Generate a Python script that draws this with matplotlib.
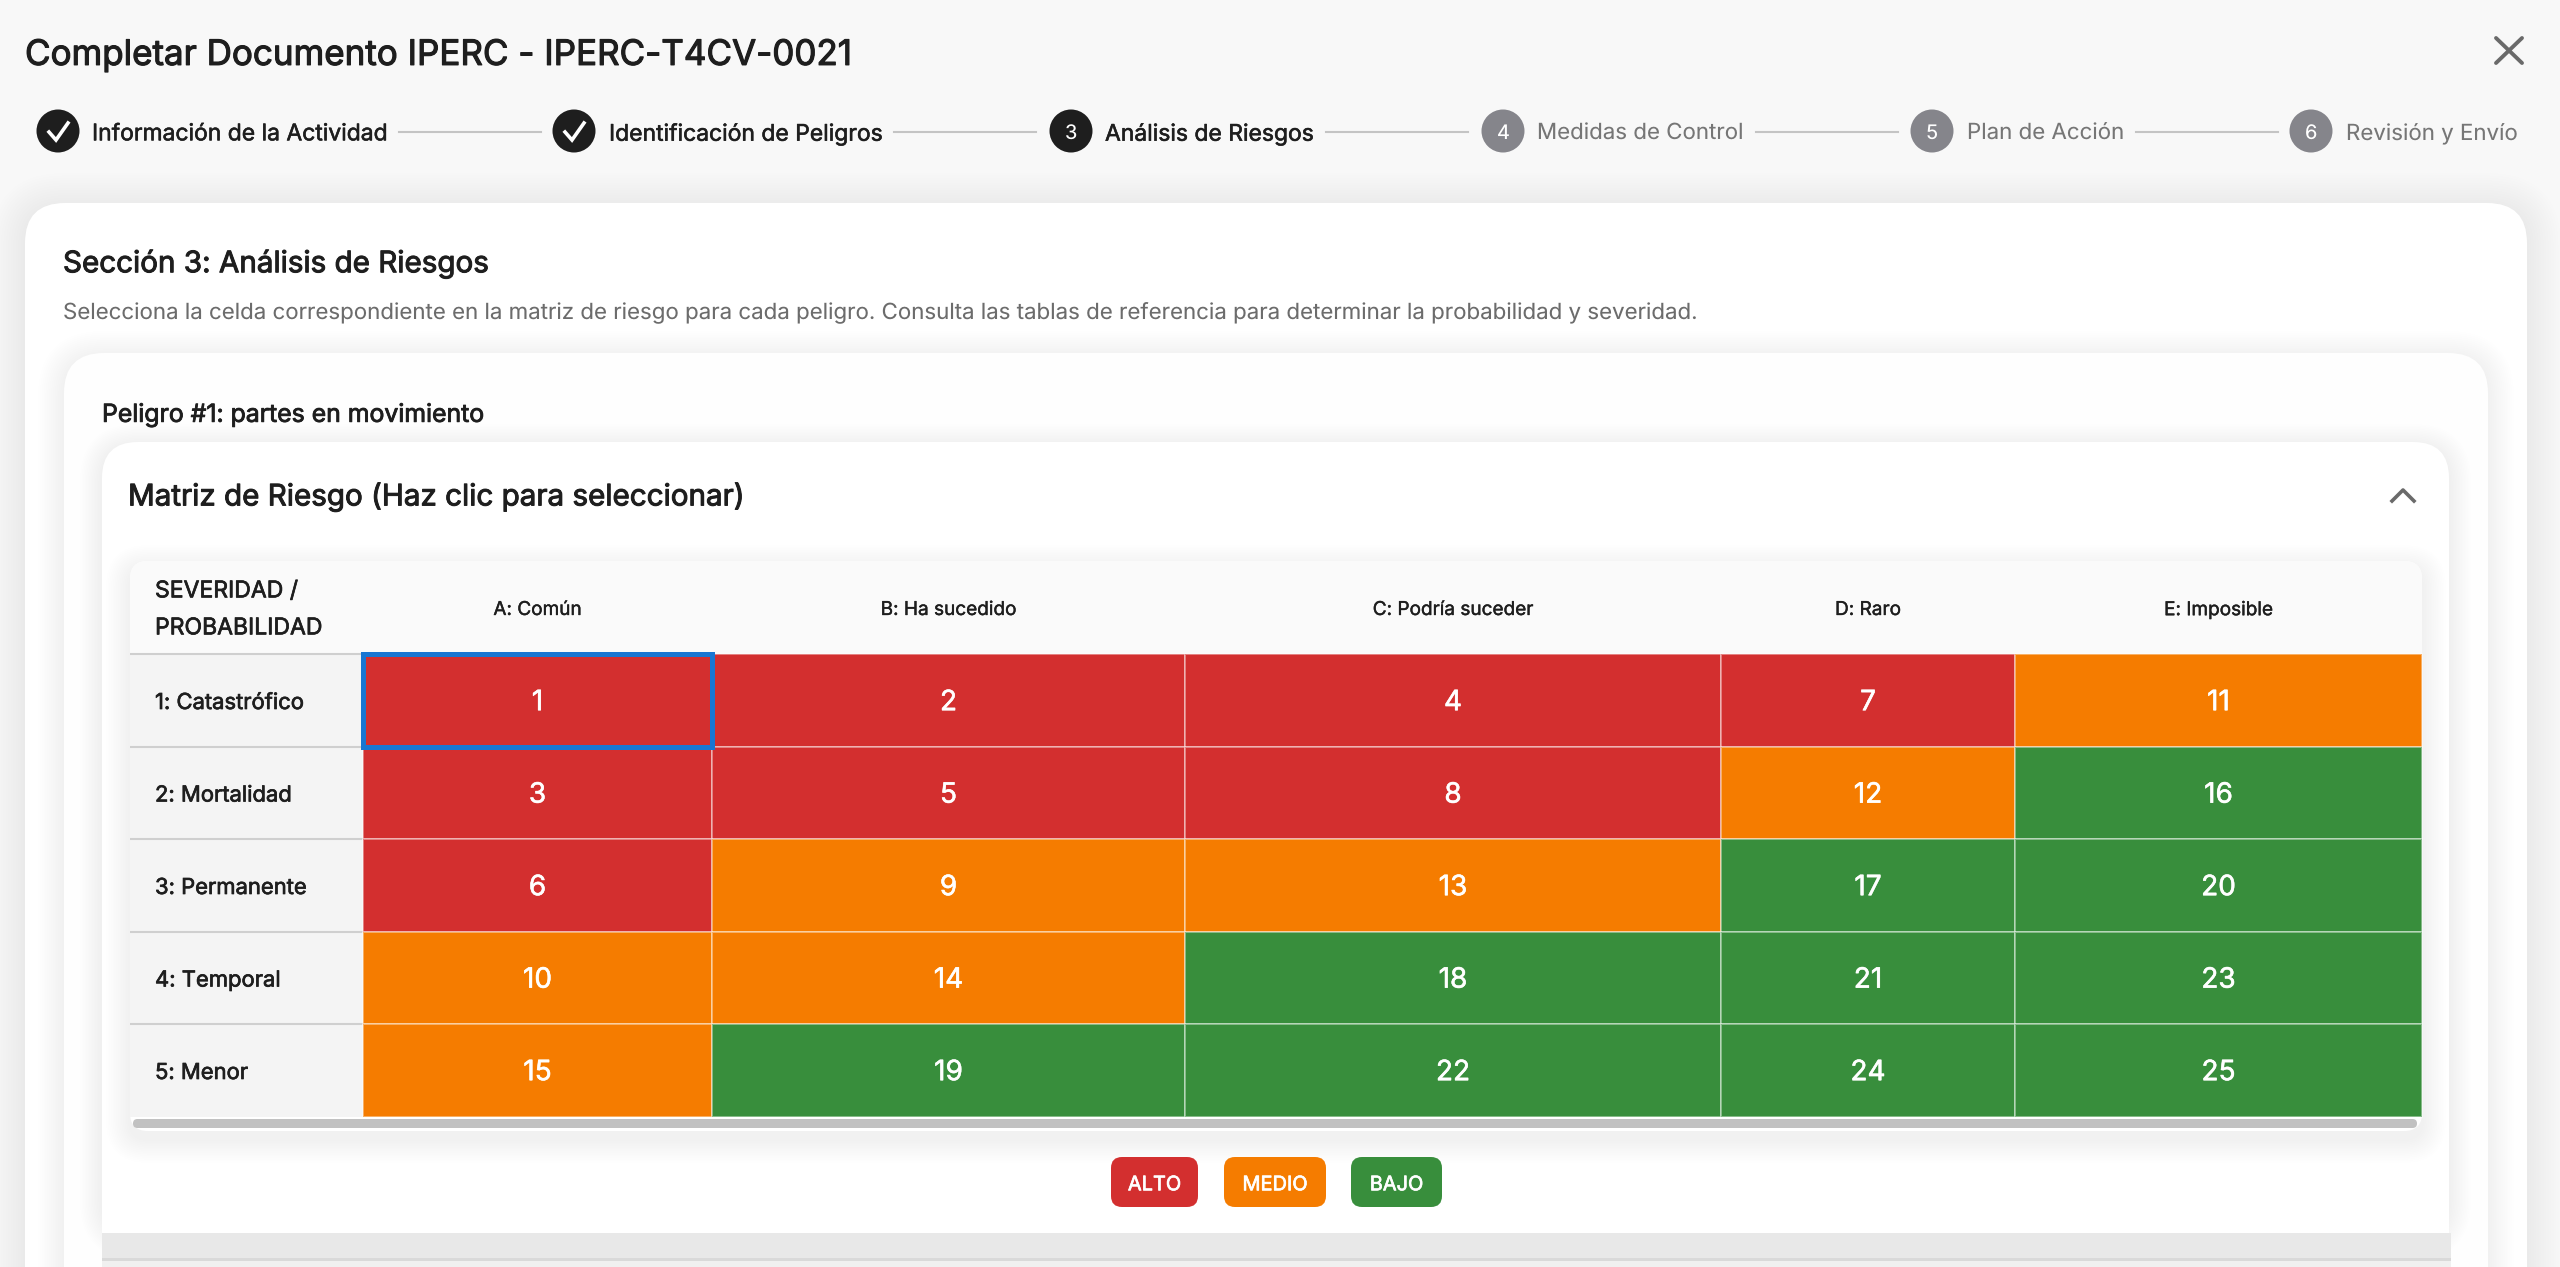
import matplotlib
matplotlib.use('Agg')
import matplotlib.pyplot as plt
import matplotlib.patheffects as pe
from matplotlib.colors import ListedColormap
from matplotlib.patches import FancyBboxPatch, Circle, Rectangle
import numpy as np

plt.rcParams['font.family'] = ['Inter', 'DejaVu Sans']
plt.rcParams['text.hinting'] = 'none'
plt.rcParams['text.hinting_factor'] = 1

# data
col_labels = ['A: Común', 'B: Ha sucedido', 'C: Podría suceder', 'D: Raro', 'E: Imposible']
row_labels = ['1: Catastrófico', '2: Mortalidad', '3: Permanente', '4: Temporal', '5: Menor']
risk_values = [[1, 2, 4, 7, 11],
               [3, 5, 8, 12, 16],
               [6, 9, 13, 17, 20],
               [10, 14, 18, 21, 23],
               [15, 19, 22, 24, 25]]
# 0 alto, 1 medio, 2 bajo
risk_levels = [[0, 0, 0, 0, 1],
               [0, 0, 0, 1, 2],
               [0, 1, 1, 2, 2],
               [1, 1, 2, 2, 2],
               [1, 2, 2, 2, 2]]
level_names = ['ALTO', 'MEDIO', 'BAJO']
level_colors = ['#D32F2F', '#F57C00', '#388E3C']
step_labels = ['Información de la Actividad', 'Identificación de Peligros', 'Análisis de Riesgos',
               'Medidas de Control', 'Plan de Acción', 'Revisión y Envío']
steps_done = 2
current_step = 3

# layout in image pixels
col_edges = [363, 712, 1185, 1721, 2015, 2422]
row_edges = [654, 747, 839, 932, 1024, 1117]
step_x = [58, 574, 1071, 1503, 1932, 2311]
label_x = [92, 609, 1105, 1537, 1967, 2346]
line_spans = [(399, 541), (894, 1036), (1326, 1468), (1756, 1898), (2136, 2278)]
chip_spans = [(1111, 1198), (1224, 1326), (1351, 1442)]


def px(size):
    return size * 72 / 100


def label(ax, x, y, s, size, color='#1e1e1e', ha='left', bold=0.0, **kw):
    t = ax.text(x, y, s, fontsize=px(size), color=color, ha=ha, va='center_baseline', **kw)
    if bold:
        t.set_path_effects([pe.withStroke(linewidth=bold, foreground=color)])
    return t


def rounded(ax, x0, y0, x1, y1, r, color, zorder=1, alpha=1.0):
    p = FancyBboxPatch((x0, y0), x1 - x0, y1 - y0, boxstyle=f'round,pad=0,rounding_size={r}',
                       fc=color, ec='none', alpha=alpha, zorder=zorder)
    ax.add_patch(p)


def shadow(ax, x0, y0, x1, y1, r, blur, strength, zorder=1, dy=4):
    for s in np.linspace(blur, 2, 14):
        rounded(ax, x0 - s, y0 - s + dy, x1 + s, y1 + s + dy, r + s, 'black', zorder, strength)


fig = plt.figure(figsize=(25.6, 12.67), dpi=100, facecolor='#f8f8f8')
ax = fig.add_axes([0, 0, 1, 1])
ax.set_xlim(0, 2560)
ax.set_ylim(1267, 0)
ax.axis('off')

# header
label(ax, 25, 52, 'Completar Documento IPERC - IPERC-T4CV-0021', 35, '#1e1e1e', bold=0.8)
ax.plot([2496, 2522], [38, 63], color='#6a6a6a', lw=2.8, solid_capstyle='round', zorder=3)
ax.plot([2496, 2522], [63, 38], color='#6a6a6a', lw=2.8, solid_capstyle='round', zorder=3)

# stepper
for i, name in enumerate(step_labels):
    active = i < current_step
    col = '#1e1e1e' if active else '#85858b'
    ax.add_patch(Circle((step_x[i], 131), 21.5, fc=col, ec='none', zorder=3))
    if i < steps_done:
        ax.plot([step_x[i] - 9, step_x[i] - 2, step_x[i] + 10], [132, 140, 123], color='white',
                lw=2.6, solid_joinstyle='miter', zorder=4)
    else:
        label(ax, step_x[i], 132, str(i + 1), 20, 'white', ha='center', zorder=4)
    label(ax, label_x[i], 132, name, 22.9 if active else 22.3, '#1e1e1e' if active else '#767676',
          bold=0.4 if active else 0, zorder=4)
for a, b in line_spans:
    ax.plot([a, b], [132, 132], color='#c4c4c4', lw=1.5, zorder=3)

# nested cards
shadow(ax, 25, 203, 2527, 1400, 40, 34, 0.003, zorder=1)
rounded(ax, 25, 203, 2527, 1400, 40, 'white', zorder=2)
label(ax, 63, 261, 'Sección 3: Análisis de Riesgos', 29.6, '#1e1e1e', bold=0.7, zorder=6)
label(ax, 63, 311, 'Selecciona la celda correspondiente en la matriz de riesgo para cada peligro. '
      'Consulta las tablas de referencia para determinar la probabilidad y severidad.', 22.3, '#6c6c6c', zorder=6)

shadow(ax, 64, 353, 2488, 1400, 40, 26, 0.0022, zorder=3)
rounded(ax, 64, 353, 2488, 1400, 40, '#fefefe', zorder=4)
label(ax, 102, 412.5, 'Peligro #1: partes en movimiento', 24.8, '#1e1e1e', bold=0.6, zorder=6)

shadow(ax, 102, 442, 2449, 1233, 36, 22, 0.0022, zorder=5)
rounded(ax, 102, 442, 2449, 1233, 36, 'white', zorder=5)
ax.add_patch(Rectangle((102, 1180), 2347, 53, fc='white', ec='none', zorder=5))
ax.add_patch(Rectangle((102, 1233), 2349, 34, fc='#e8e8e8', ec='none', zorder=5))
ax.add_patch(Rectangle((102, 1258), 2349, 3, fc='#d9d9d9', ec='none', zorder=5))
ax.add_patch(Rectangle((102, 1261), 2349, 6, fc='#f0f0f0', ec='none', zorder=5))
label(ax, 128, 494, 'Matriz de Riesgo (Haz clic para seleccionar)', 29.6, '#1e1e1e', bold=0.7, zorder=6)
ax.plot([2392, 2403, 2414], [501, 490, 501], color='#6a6a6a', lw=2.6, zorder=6)

# table
shadow(ax, 130, 561, 2422, 1131, 18, 24, 0.003, zorder=5, dy=8)
rounded(ax, 130, 561, 2422, 1131, 18, 'white', zorder=6)
rounded(ax, 130, 561, 2422, 654, 18, '#fafafa', zorder=6)
ax.add_patch(Rectangle((130, 620), 2292, 34, fc='#fafafa', ec='none', zorder=6))
ax.add_patch(Rectangle((130, row_edges[0]), col_edges[0] - 130, row_edges[-1] - row_edges[0],
                       fc='#f4f4f4', ec='none', zorder=6))
ax.hlines(row_edges[:-1], 130, col_edges[0], color='#cfcfcf', lw=1.5, zorder=7)
label(ax, 155, 589, 'SEVERIDAD /', 23, '#1e1e1e', bold=0.5, zorder=8)
label(ax, 155, 626, 'PROBABILIDAD', 23, '#1e1e1e', bold=0.5, zorder=8)

mesh = ax.pcolormesh(col_edges, row_edges, np.array(risk_levels), cmap=ListedColormap(level_colors),
                     vmin=-0.5, vmax=2.5, edgecolors=(1, 1, 1, 0.4), linewidth=1.2, zorder=7)
for j, name in enumerate(col_labels):
    label(ax, (col_edges[j] + col_edges[j + 1]) / 2, 608, name, 19, '#1e1e1e', ha='center', bold=0.3, zorder=8)
for i, name in enumerate(row_labels):
    yc = (row_edges[i] + row_edges[i + 1]) / 2
    label(ax, 155, yc + 0.5, name, 22, '#1e1e1e', bold=0.5, zorder=8)
    for j, v in enumerate(risk_values[i]):
        label(ax, (col_edges[j] + col_edges[j + 1]) / 2, yc - 0.5, str(v), 28, 'white', ha='center', bold=0.4, zorder=8)

# selected cell
ax.add_patch(Rectangle((col_edges[0], row_edges[0]), col_edges[1] - col_edges[0], row_edges[1] - row_edges[0],
                       fc='none', ec='#1976D2', lw=3.6, zorder=9))

# scrollbar
rounded(ax, 133, 1119, 2417, 1128, 4.5, '#c1c1c1', zorder=8)

# legend chips
for (a, b), name, c in zip(chip_spans, level_names, level_colors):
    rounded(ax, a, 1157, b, 1207, 11, c, zorder=8)
    label(ax, (a + b) / 2, 1183, name, 20, 'white', ha='center', bold=0.5, zorder=9)

fig.savefig('out.png', dpi=100, facecolor=fig.get_facecolor())
